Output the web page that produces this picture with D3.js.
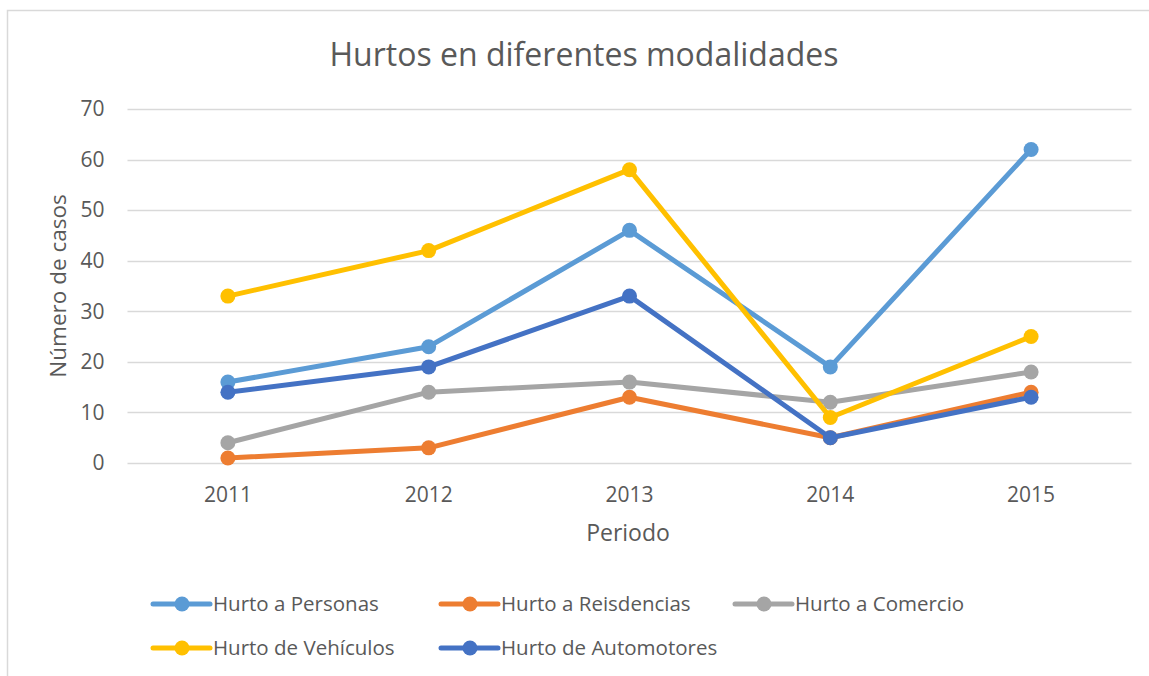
<!DOCTYPE html>
<html><head><meta charset="utf-8">
<script src="https://cdn.jsdelivr.net/npm/d3@7"></script>
<style>body{margin:0;background:#fff;} svg{display:block;font-family:"Open Sans","Liberation Sans",sans-serif;}</style>
</head><body>
<svg id="c" width="1149" height="676"></svg>
<script>
const years = ["2011","2012","2013","2014","2015"];
const seriesNames = ["Hurto a Personas","Hurto a Reisdencias","Hurto a Comercio","Hurto de Vehículos","Hurto de Automotores"];
const personas = [16,23,46,19,62];
const residencias = [1,3,13,5,14];
const comercio = [4,14,16,12,18];
const vehiculos = [33,42,58,9,25];
const automotores = [14,19,33,5,13];
const yTicks = [0,10,20,30,40,50,60,70];
const colors = ["#5B9BD5","#ED7D31","#A5A5A5","#FFC000","#4472C4"];
const allValues = [personas,residencias,comercio,vehiculos,automotores];

const svg = d3.select("#c");
svg.append("rect").attr("x",7.5).attr("y",10.5).attr("width",1150).attr("height",680)
  .attr("fill","#fff").attr("stroke","#D9D9D9").attr("stroke-width",1.5);

const x = d3.scaleBand().domain(years).range([127.5,1131.5]);
const y = d3.scaleLinear().domain([0,70]).range([463,109]);

// gridlines
svg.append("g").selectAll("line").data(yTicks).join("line")
  .attr("x1",127.5).attr("x2",1131.5).attr("y1",d=>Math.round(y(d))+0.5).attr("y2",d=>Math.round(y(d))+0.5)
  .attr("stroke","#D9D9D9").attr("stroke-width",1.5);

const yAxis = svg.append("g").attr("transform","translate(127.5,0)")
  .call(d3.axisLeft(y).tickValues(yTicks).tickSize(0).tickPadding(23));
yAxis.select(".domain").remove();
yAxis.selectAll("text").attr("fill","#595959").style("font-size","21px").style("font-family","'Open Sans','Liberation Sans',sans-serif");

const xAxis = svg.append("g").attr("transform","translate(0,463)")
  .call(d3.axisBottom(x).tickSize(0).tickPadding(24));
xAxis.select(".domain").remove();
xAxis.selectAll("text").attr("fill","#595959").style("font-size","21px").style("font-family","'Open Sans','Liberation Sans',sans-serif");

svg.append("text").attr("x",584).attr("y",66).attr("text-anchor","middle")
  .attr("fill","#595959").style("font-size","32px").text("Hurtos en diferentes modalidades");
svg.append("text").attr("x",628).attr("y",541).attr("text-anchor","middle")
  .attr("fill","#595959").style("font-size","23px").text("Periodo");
svg.append("text").attr("transform","translate(66,286) rotate(-90)").attr("text-anchor","middle")
  .attr("fill","#595959").style("font-size","22.5px").text("Número de casos");

const line = d3.line().x((d,i)=>x(years[i])+x.bandwidth()/2).y(d=>y(d));
allValues.forEach((vals,si)=>{
  const g = svg.append("g");
  g.append("path").datum(vals).attr("d",line).attr("fill","none")
    .attr("stroke",colors[si]).attr("stroke-width",5).attr("stroke-linejoin","round").attr("stroke-linecap","round");
  g.selectAll("circle").data(vals).join("circle")
    .attr("cx",(d,i)=>x(years[i])+x.bandwidth()/2).attr("cy",d=>y(d)).attr("r",7.5).attr("fill",colors[si]);
});

// legend
const legPos = [[153,604],[441,604],[735,604],[153,648],[441,648]];
seriesNames.forEach((n,i)=>{
  const [lx,ly] = legPos[i];
  const g = svg.append("g");
  g.append("line").attr("x1",lx).attr("x2",lx+57).attr("y1",ly).attr("y2",ly)
    .attr("stroke",colors[i]).attr("stroke-width",5).attr("stroke-linecap","round");
  g.append("circle").attr("cx",lx+29).attr("cy",ly).attr("r",7.5).attr("fill",colors[i]);
  g.append("text").attr("x",lx+60).attr("y",ly).attr("dy","0.35em")
    .attr("fill","#595959").style("font-size","20.5px").text(n);
});
</script>
</body></html>
